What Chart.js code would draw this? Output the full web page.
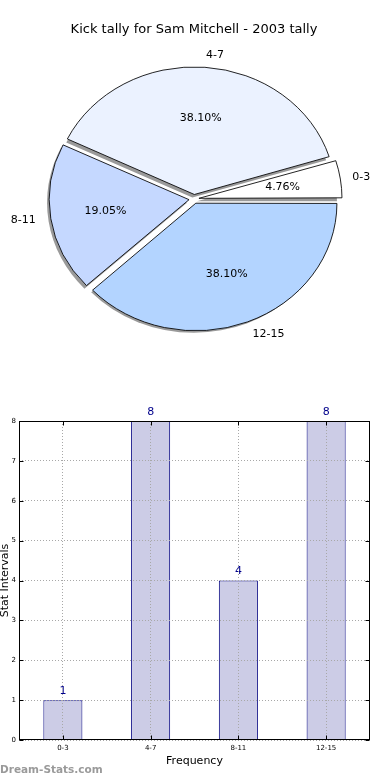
<!DOCTYPE html>
<html>
<head>
<meta charset="utf-8">
<script src="https://cdn.jsdelivr.net/npm/chart.js@4.4.1/dist/chart.umd.min.js"></script>
<style>
  body { margin: 0; background: #fff; }
  #wrap { position: relative; width: 390px; height: 780px; overflow: hidden; }
  #pieChart { position: absolute; left: 0; top: 0; }
  #barChart { position: absolute; left: 0; top: 380px; }
  #brand { position: absolute; left: 0; top: 763px; font: bold 10.5px "DejaVu Sans"; color: #9a9a9a; }
</style>
</head>
<body>
<div id="wrap">
  <canvas id="pieChart" width="390" height="380"></canvas>
  <canvas id="barChart" width="390" height="400"></canvas>
  <div id="brand">Dream-Stats.com</div>
</div>
<script>
// kick tally per interval
const categories = ['0-3', '4-7', '8-11', '12-15'];
const kicks = [1, 8, 4, 8];
const sliceColors = ['#ffffff', '#ebf2ff', '#c5d8ff', '#b3d4ff'];
const yMax = 8;

Chart.defaults.font.family = '"DejaVu Sans"';
Chart.defaults.color = '#000';

// pie goes counter clockwise from 3 o'clock in the original, chart.js goes clockwise
const pieLabels = categories.slice().reverse();
const pieValues = kicks.slice().reverse();
const pieColors = sliceColors.slice().reverse();

const pieSquash = 0.904;   // original pie is a bit flatter than round
const explode = 20;        // chart.js moves a slice by offset / 4

const pieLook = {
    id: 'pieLook',
    beforeDatasetsDraw(chart) {
        const ctx = chart.ctx;
        const meta = chart.getDatasetMeta(0);
        const a = meta.data[0];
        ctx.save();
        ctx.translate(a.x, a.y);
        ctx.scale(1, pieSquash);
        ctx.translate(-a.x, -a.y);

        // grey shadow under every slice, drawn first
        ctx.save();
        ctx.translate(-2, 3 / pieSquash);
        ctx.fillStyle = '#9a9a9a';
        meta.data.forEach(arc => {
            const mid = (arc.startAngle + arc.endAngle) / 2;
            const shift = arc.options.offset / 4;
            const cx = arc.x + shift * Math.cos(mid);
            const cy = arc.y + shift * Math.sin(mid);
            ctx.beginPath();
            ctx.moveTo(cx, cy);
            ctx.arc(cx, cy, arc.outerRadius + 0.5, arc.startAngle, arc.endAngle);
            ctx.closePath();
            ctx.fill();
        });
        ctx.restore();
    },
    afterDatasetsDraw(chart) {
        const ctx = chart.ctx;
        ctx.restore();
        const meta = chart.getDatasetMeta(0);
        const vals = chart.data.datasets[0].data;
        const total = vals.reduce((s, v) => s + v, 0);
        ctx.save();
        ctx.font = '11px "DejaVu Sans"';
        ctx.fillStyle = '#000';
        ctx.textBaseline = 'middle';
        meta.data.forEach((arc, i) => {
            const mid = (arc.startAngle + arc.endAngle) / 2;
            const c = Math.cos(mid), s = Math.sin(mid);
            const shift = arc.options.offset / 4;
            const r = arc.outerRadius + 1.5;
            const cx = arc.x + shift * c;
            const cy = arc.y + shift * s * pieSquash;
            ctx.textAlign = c > 0 ? 'left' : 'right';
            ctx.fillText(chart.data.labels[i], cx + 1.1 * r * c, cy + 1.1 * r * s * pieSquash);
            ctx.textAlign = 'center';
            ctx.fillText((vals[i] / total * 100).toFixed(2) + '%', cx + 0.6 * r * c, cy + 0.6 * r * s * pieSquash);
        });
        ctx.restore();
    }
};

new Chart(document.getElementById('pieChart'), {
    type: 'pie',
    data: {
        labels: pieLabels,
        datasets: [{
            data: pieValues,
            backgroundColor: pieColors,
            borderColor: '#000',
            borderWidth: 0.9,
            offset: explode
        }]
    },
    options: {
        responsive: false,
        animation: false,
        events: [],
        rotation: 90,
        radius: 139.5,
        layout: { padding: { left: 0, right: 2, top: 0, bottom: 19.8 } },
        plugins: {
            legend: { display: false },
            tooltip: { enabled: false },
            title: {
                display: true,
                text: 'Kick tally for Sam Mitchell - 2003 tally',
                color: '#000',
                font: { size: 13, weight: 'normal' },
                padding: { top: 22.2, bottom: 0 }
            }
        }
    },
    plugins: [pieLook]
});

// value labels, box and inward ticks like the original
const barFrame = {
    id: 'barFrame',
    afterDatasetsDraw(chart) {
        const ctx = chart.ctx;
        const vals = chart.data.datasets[0].data;
        ctx.save();
        ctx.font = '11px "DejaVu Sans"';
        ctx.fillStyle = '#00008b';
        ctx.textAlign = 'center';
        ctx.textBaseline = 'middle';
        chart.getDatasetMeta(0).data.forEach((bar, i) => {
            ctx.fillText(vals[i], bar.x, bar.y - 9);
        });
        ctx.restore();
    },
    afterDraw(chart) {
        const { ctx, chartArea: a, scales: { x, y } } = chart;
        const l = Math.round(a.left) + 0.5, r = Math.round(a.right) - 0.5;
        const t = Math.round(a.top) + 0.5, b = Math.round(a.bottom) - 0.5;
        ctx.save();
        ctx.strokeStyle = '#000';
        ctx.lineWidth = 1;
        ctx.beginPath();
        y.ticks.forEach(tk => {
            const py = Math.round(y.getPixelForValue(tk.value)) + 0.5;
            ctx.moveTo(l, py); ctx.lineTo(l + 4, py);
            ctx.moveTo(r, py); ctx.lineTo(r - 4, py);
        });
        x.ticks.forEach((tk, i) => {
            const px = Math.round(x.getPixelForTick(i)) + 0.5;
            ctx.moveTo(px, b); ctx.lineTo(px, b - 4);
            ctx.moveTo(px, t); ctx.lineTo(px, t + 4);
        });
        ctx.stroke();
        ctx.strokeRect(l, t, r - l, b - t);
        ctx.restore();
    }
};

new Chart(document.getElementById('barChart'), {
    type: 'bar',
    data: {
        labels: categories,
        datasets: [{
            data: kicks,
            backgroundColor: '#cccce6',
            borderColor: '#000080',
            borderWidth: 1,
            barPercentage: 0.445,
            categoryPercentage: 1
        }]
    },
    options: {
        responsive: false,
        animation: false,
        events: [],
        layout: { padding: { left: 0, right: 20, top: 41, bottom: 0 } },
        plugins: {
            legend: { display: false },
            tooltip: { enabled: false }
        },
        scales: {
            x: {
                grid: { offset: false, color: '#a8a8a8', z: 1, drawTicks: false },
                border: { display: false, dash: [1, 2] },
                ticks: { font: { size: 7 }, color: '#000', padding: 4 },
                title: {
                    display: true,
                    text: 'Frequency',
                    color: '#000',
                    font: { size: 11 },
                    padding: { top: 0, bottom: 12.4 }
                },
                afterFit(scale) { scale.height = 40; }
            },
            y: {
                min: 0,
                max: yMax,
                grid: { color: '#a8a8a8', z: 1, drawTicks: false },
                border: { display: false, dash: [1, 2] },
                ticks: { stepSize: 1, font: { size: 7 }, color: '#000', padding: 3 },
                title: {
                    display: true,
                    text: 'Stat Intervals',
                    color: '#000',
                    font: { size: 11 },
                    padding: { top: -1.5, bottom: 0 }
                },
                afterFit(scale) { scale.width = 19; }
            }
        }
    },
    plugins: [barFrame]
});
</script>
</body>
</html>
